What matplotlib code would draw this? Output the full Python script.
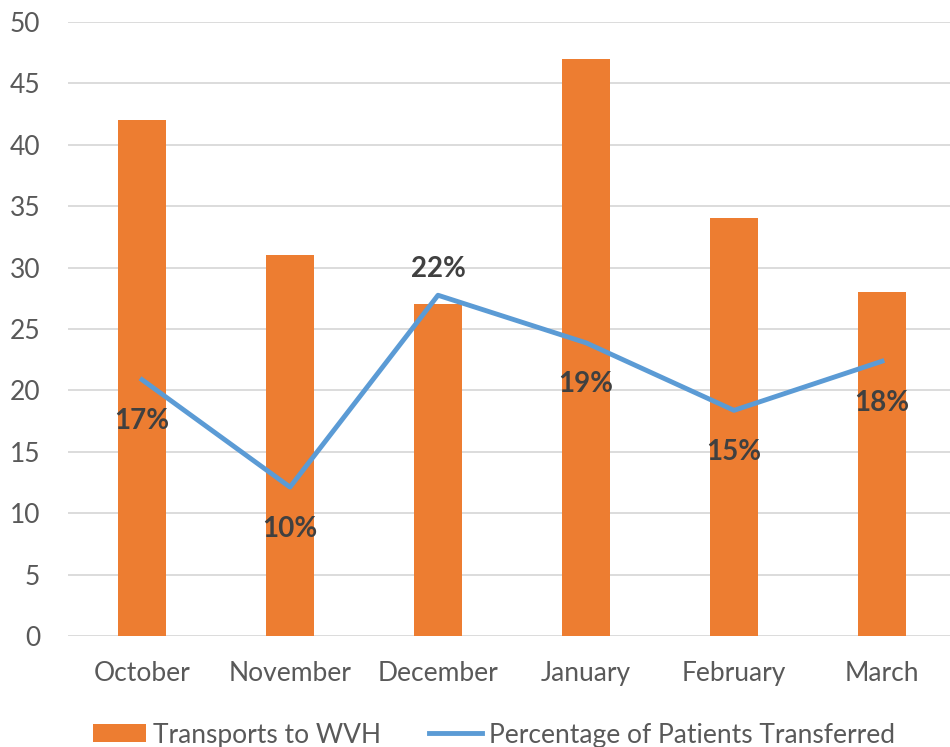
import matplotlib.pyplot as plt

# datos
months = ['October', 'November', 'December', 'January', 'February', 'March']
transports = [42, 31, 27, 47, 34, 28]
pct_transferred = [0.167, 0.097, 0.222, 0.191, 0.147, 0.179]
pct_labels = ['17%', '10%', '22%', '19%', '15%', '18%']
label_above = [False, False, True, False, False, False]

plt.rcParams['font.family'] = ['Lato', 'DejaVu Sans']

fig = plt.figure(figsize=(9.5, 7.47), dpi=100)
ax = fig.add_axes([68 / 950, 1 - 636 / 747, 888 / 950, (636 - 22) / 747])

x = range(len(months))
ax.bar(x, transports, width=0.32, color='#ED7D31', label='Transports to WVH', zorder=2)
ax.set_xlim(-0.5, len(months) - 0.5)
ax.set_ylim(0, 50)
ax.set_yticks(range(0, 51, 5))
ax.set_xticks(list(x))
ax.set_xticklabels(months)
ax.tick_params(axis='both', length=0, labelsize=19, colors='#595959')
ax.tick_params(axis='x', pad=18)
ax.tick_params(axis='y', pad=20)
ax.grid(axis='y', color='#D9D9D9', linewidth=1.3, zorder=0)
ax.set_axisbelow(True)
for s in ax.spines.values():
    s.set_visible(False)

# eje secundario (oculto) para el porcentaje
ax2 = ax.twinx()
ax2.set_ylim(0, 0.4)
ax2.axis('off')
ax2.plot(list(x), pct_transferred, color='#5B9BD5', linewidth=3.5, label='Percentage of Patients Transferred',
         zorder=3)
for i, (v, t) in enumerate(zip(pct_transferred, pct_labels)):
    off = 19 if label_above[i] else -30
    ax2.annotate(t, (i, v), xytext=(0, off), textcoords='offset points', ha='center', va='center',
                 fontsize=20, fontweight='bold', color='#404040')

h1, l1 = ax.get_legend_handles_labels()
h2, l2 = ax2.get_legend_handles_labels()
fig.legend(h1 + h2, l1 + l2, loc='center', bbox_to_anchor=(0.52, 12 / 747), ncol=2, frameon=False,
           fontsize=19, labelcolor='#595959', handlelength=2.0, handleheight=0.65, columnspacing=1.85,
           handletextpad=0.25, borderpad=0)

fig.savefig('out.png', dpi=100)
